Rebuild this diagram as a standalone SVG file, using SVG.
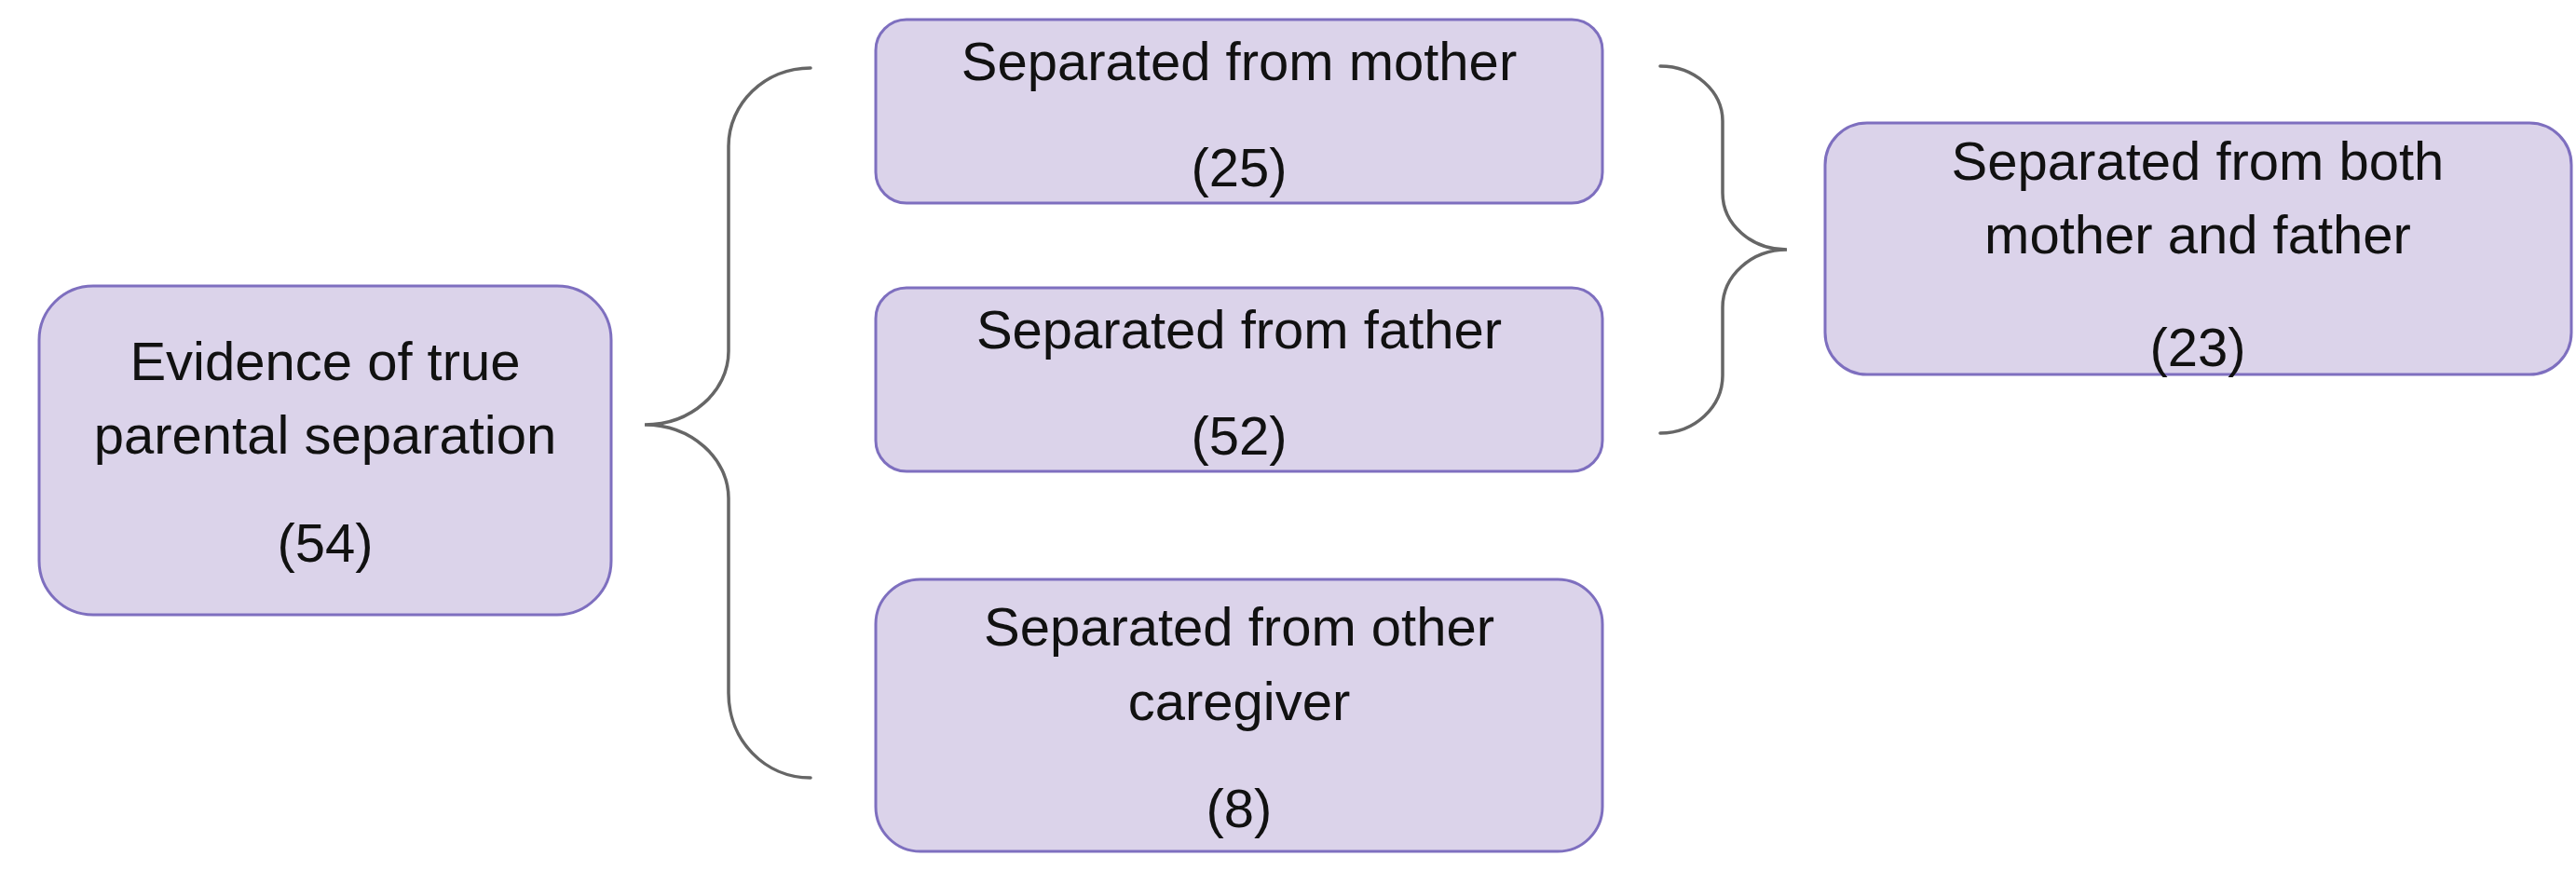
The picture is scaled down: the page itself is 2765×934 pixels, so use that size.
<svg xmlns="http://www.w3.org/2000/svg" width="2765" height="934" viewBox="0 0 2765 934">
<style>
.box{fill:#dbd3ea;stroke:#7e6fbf;stroke-width:3}
.t{font-family:"Liberation Sans",Arial,sans-serif;font-size:58px;fill:#111;text-anchor:middle}
.brace{fill:none;stroke:#666;stroke-width:3.5;stroke-linecap:round}
</style>
<rect width="2765" height="934" fill="#fff"/>
<g id="connectors">
<path class="brace" d="M870,73 C821,73 782,111 782,157 L782,377 C782,420 742,456 692,456 C742,456 782,492 782,535 L782,744 C782,795 821,835 870,835"/>
<path class="brace" d="M1782,71 C1819,71 1849,98 1849,130 L1849,207 C1849,241 1880,268 1918,268 C1880,268 1849,296 1849,330 L1849,403 C1849,437 1819,465 1782,465"/>
</g>
<g id="evidence">
<rect class="box" x="42" y="307" width="614" height="353" rx="58" ry="58"/>
<text class="t" x="349" y="408">Evidence of true</text>
<text class="t" x="349" y="487">parental separation</text>
<text class="t" x="349" y="603">(54)</text>
</g>
<g id="mother">
<rect class="box" x="940" y="21" width="780" height="197" rx="33" ry="33"/>
<text class="t" x="1330" y="86">Separated from mother</text>
<text class="t" x="1330" y="200">(25)</text>
</g>
<g id="father">
<rect class="box" x="940" y="309" width="780" height="197" rx="33" ry="33"/>
<text class="t" x="1330" y="374">Separated from father</text>
<text class="t" x="1330" y="488">(52)</text>
</g>
<g id="other">
<rect class="box" x="940" y="622" width="780" height="292" rx="48" ry="48"/>
<text class="t" x="1330" y="693">Separated from other</text>
<text class="t" x="1330" y="773">caregiver</text>
<text class="t" x="1330" y="888">(8)</text>
</g>
<g id="both">
<rect class="box" x="1959" y="132" width="801" height="270" rx="45" ry="45"/>
<text class="t" x="2359" y="193">Separated from both</text>
<text class="t" x="2359" y="272">mother and father</text>
<text class="t" x="2359" y="393">(23)</text>
</g>
</svg>
